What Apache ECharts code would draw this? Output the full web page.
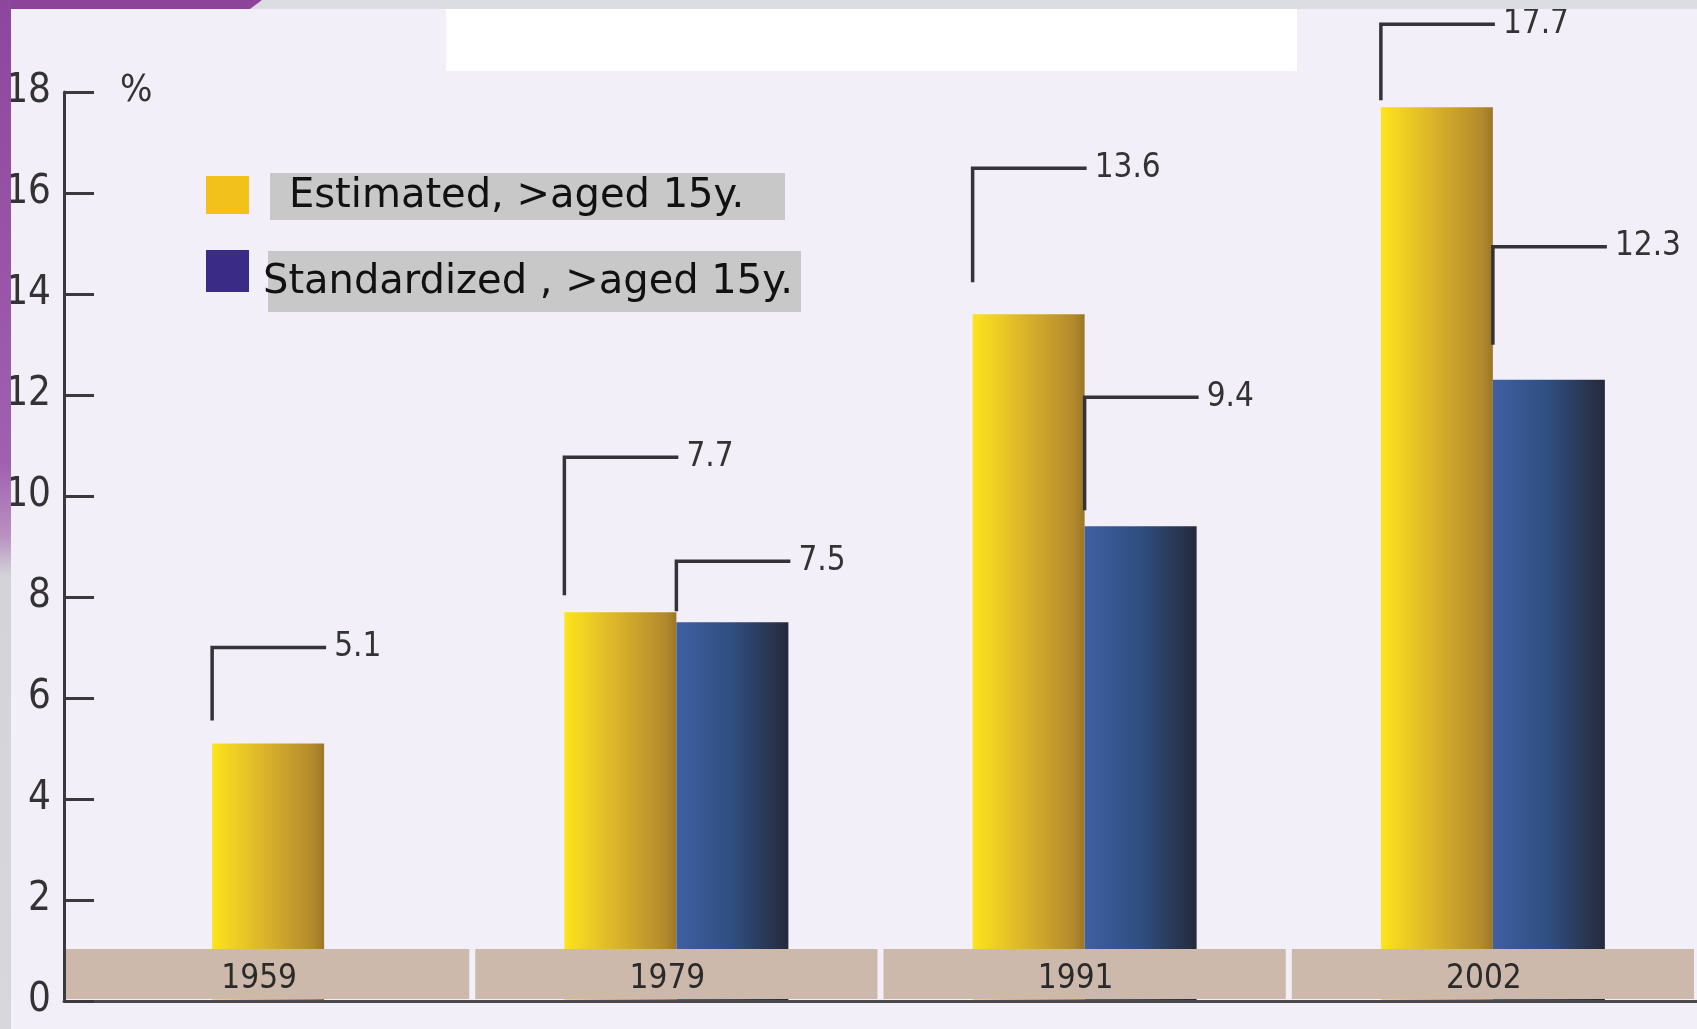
<!DOCTYPE html>
<html>
<head>
<meta charset="utf-8">
<script src="https://cdn.jsdelivr.net/npm/echarts@6/dist/echarts.min.js"></script>
<style>
html,body{margin:0;padding:0;background:#f2eff9;}
#chart{width:1697px;height:1029px;}
</style>
</head>
<body>
<div id="chart"></div>
<script>
// ---- data ----
const categories = ['1959', '1979', '1991', '2002'];
const estimated = [5.1, 7.7, 13.6, 17.7];
const standardized = [null, 7.5, 9.4, 12.3];
const seriesNames = ['Estimated, >aged 15y.', 'Standardized , >aged 15y.'];
const yMin = 0, yMax = 18, yStep = 2;
const unitLabel = '%';

// ---- layout / style (not data) ----
const BAR_W = 112;
const BAND_TOP = 1.03;
const LEADER_RISE_EST = [96, 155, 146, 83];
const LEADER_RISE_STD = [0, 61, 129, 133];
const LEADER_GAP_EST = [23, 17, 32, 7];
const LEADER_GAP_STD = [0, 11, 16, 35];
const NARROW = "'Liberation Sans Narrow','DejaVu Sans Condensed',sans-serif";

const yellowGrad = new echarts.graphic.LinearGradient(0, 0, 1, 0, [
  {offset: 0, color: '#fde41c'},
  {offset: 0.45, color: '#dcb52a'},
  {offset: 0.9, color: '#b38a2c'},
  {offset: 1, color: '#9c7628'}
]);
const blueGrad = new echarts.graphic.LinearGradient(0, 0, 1, 0, [
  {offset: 0, color: '#3f5fa2'},
  {offset: 0.5, color: '#2f4e80'},
  {offset: 1, color: '#252a3b'}
]);

const paired = estimated.map((v, i) => standardized[i] == null ? '-' : v);
const single = estimated.map((v, i) => standardized[i] == null ? v : '-');
const stdData = standardized.map(v => v == null ? '-' : v);

const leaderData = [];
estimated.forEach((v, i) => leaderData.push([i, v, standardized[i] == null ? 2 : 0, LEADER_RISE_EST[i], LEADER_GAP_EST[i]]));
standardized.forEach((v, i) => { if (v != null) leaderData.push([i, v, 1, LEADER_RISE_STD[i], LEADER_GAP_STD[i]]); });

const chart = echarts.init(document.getElementById('chart'));

const option = {
  backgroundColor: '#f2eff9',
  animation: false,
  grid: {left: 64, right: -7, top: 92, bottom: 28, containLabel: false},
  xAxis: [
    {
      type: 'category', data: categories, z: 10,
      axisLine: {show: true, lineStyle: {color: '#4a4a4a', width: 3}},
      axisTick: {show: false},
      axisLabel: {interval: 0, margin: -38, fontSize: 33, color: '#2a2a2a', fontFamily: NARROW, padding: [0, 18, 0, 0]}
    },
    {type: 'category', data: categories, show: false}
  ],
  yAxis: {
    type: 'value', min: yMin, max: yMax, interval: yStep, z: 10,
    axisLine: {show: true, lineStyle: {color: '#3a3a3e', width: 3}},
    axisTick: {show: true, inside: true, length: 30, lineStyle: {color: '#3a3a3e', width: 3}},
    splitLine: {show: false},
    axisLabel: {fontSize: 40, color: '#333', margin: 13, fontFamily: NARROW}
  },
  series: [
    {
      name: seriesNames[0], type: 'bar', xAxisIndex: 0, data: paired,
      barWidth: BAR_W, barGap: '0%', itemStyle: {color: yellowGrad}, z: 2
    },
    {
      name: seriesNames[1], type: 'bar', xAxisIndex: 0, data: stdData,
      barWidth: BAR_W, barGap: '0%', itemStyle: {color: blueGrad}, z: 2
    },
    {
      name: seriesNames[0], type: 'bar', xAxisIndex: 1, data: single,
      barWidth: BAR_W, itemStyle: {color: yellowGrad}, z: 2
    },
    {
      type: 'custom', xAxisIndex: 0, z: 5, silent: true,
      data: categories.map((c, i) => [i]),
      renderItem: function (params, api) {
        const i = api.value(0);
        const c = api.coord([i, 0]);
        const top = api.coord([i, BAND_TOP])[1];
        const w = api.size([1, 0])[0];
        const x0 = c[0] - w / 2 + (i === 0 ? 2 : 3);
        const x1 = c[0] + w / 2 - 3;
        return {
          type: 'rect',
          shape: {x: x0, y: top, width: x1 - x0, height: c[1] - top - 2},
          style: {fill: '#cdb9ab'}
        };
      }
    },
    {
      type: 'custom', xAxisIndex: 0, z: 6, silent: true,
      data: leaderData,
      renderItem: function (params, api) {
        const i = api.value(0), v = api.value(1), slot = api.value(2);
        const rise = api.value(3), gap = api.value(4);
        const c = api.coord([i, v]);
        const x0 = slot === 0 ? c[0] - BAR_W : (slot === 1 ? c[0] : c[0] - BAR_W / 2);
        const top = c[1];
        const y0 = top - rise;
        return {
          type: 'group',
          children: [
            {
              type: 'polyline',
              shape: {points: [[x0, top - gap], [x0, y0], [x0 + BAR_W + 2, y0]]},
              style: {stroke: '#333338', lineWidth: 3.5, fill: null}
            },
            {
              type: 'text',
              style: {
                x: x0 + BAR_W + 10, y: y0, text: v.toFixed(1),
                fontSize: 33, fontFamily: NARROW, fill: '#333',
                align: 'left', verticalAlign: 'middle'
              }
            }
          ]
        };
      }
    }
  ],
  graphic: [
    {type: 'rect', z: 100, shape: {x: 0, y: 0, width: 1697, height: 9}, style: {fill: '#dcdde2'}},
    {type: 'polygon', z: 101, shape: {points: [[0, 0], [262, 0], [250, 9], [0, 9]]}, style: {fill: '#8c4399'}},
    {type: 'rect', z: 101, shape: {x: 0, y: 0, width: 11, height: 1029},
      style: {fill: new echarts.graphic.LinearGradient(0, 0, 0, 1, [
        {offset: 0, color: '#8e469c'}, {offset: 0.45, color: '#a060b0'},
        {offset: 0.52, color: '#b890c0'}, {offset: 0.56, color: '#d4d4d8'}, {offset: 1, color: '#d8d8dc'}])}},
    {type: 'rect', z: 100, shape: {x: 446, y: 9, width: 851, height: 62}, style: {fill: '#ffffff'}},
    {type: 'text', z: 100, style: {x: 120, y: 91, text: unitLabel, fontSize: 38, fontFamily: NARROW, fill: '#333', verticalAlign: 'middle'}},
    // legend
    {type: 'rect', z: 100, shape: {x: 206, y: 176, width: 43, height: 38}, style: {fill: '#f2c11c'}},
    {type: 'rect', z: 100, shape: {x: 270, y: 173, width: 515, height: 47}, style: {fill: '#c8c8c8'}},
    {type: 'text', z: 101, style: {x: 289, y: 197, text: seriesNames[0], fontSize: 40, fontFamily: 'DejaVu Sans', fill: '#111', verticalAlign: 'middle'}},
    {type: 'rect', z: 100, shape: {x: 206, y: 250, width: 43, height: 42}, style: {fill: '#3a2c86'}},
    {type: 'rect', z: 100, shape: {x: 268, y: 251, width: 533, height: 61}, style: {fill: '#c8c8c8'}},
    {type: 'text', z: 101, style: {x: 263, y: 283, text: seriesNames[1], fontSize: 40, fontFamily: 'DejaVu Sans', fill: '#111', verticalAlign: 'middle'}}
  ]
};
chart.setOption(option);
</script>
</body>
</html>
